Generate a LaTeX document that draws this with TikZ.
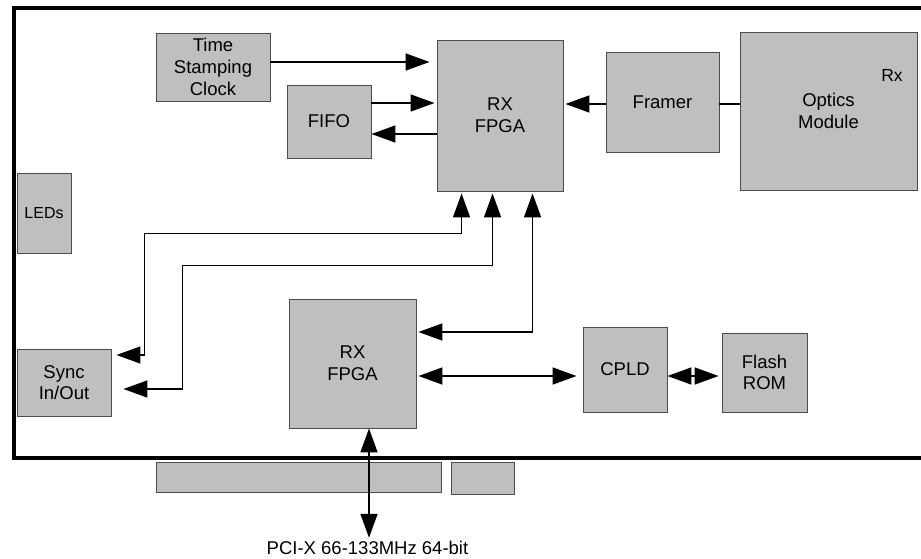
\documentclass[tikz,border=0pt]{standalone}
\usepackage{fontspec}
\setmainfont{Liberation Sans}
\usetikzlibrary{arrows.meta}

\begin{document}
\begin{tikzpicture}[x=1pt, y=-1pt, thick,
  main/.style = {draw=black!70, line width=0.9pt, fill=black!25, inner sep=0pt, align=center, font=\fontsize{18.5}{21.7}\selectfont},
  txt/.style = {inner sep=0pt, font=\fontsize{18.5}{21.7}\selectfont},
  arr/.style = {line width=1.6pt, -{Triangle[length=24pt, width=17pt]}},
  dbl/.style = {line width=1.6pt, {Triangle[length=24pt, width=17pt]}-{Triangle[length=24pt, width=17pt]}}]
\useasboundingbox (0,0) rectangle (921,558);

\draw[line width=4.5pt] (921,8) -- (14,8) -- (14,458) -- (921,458);

\node[main, minimum width=114pt, minimum height=68pt] (clk) at (213,67) {Time\\Stamping\\Clock};
\node[main, minimum width=84pt, minimum height=73pt] (fifo) at (329,121.5) {FIFO};
\node[main, minimum width=126pt, minimum height=151pt] (rx1) at (500,115.5) {RX\\FPGA};
\node[main, minimum width=113pt, minimum height=100pt] (framer) at (662.5,102) {Framer};
\node[main, minimum width=177pt, minimum height=158pt] (optics) at (828.5,111) {Optics\\Module};
\node[txt, font=\fontsize{17.5}{20}\selectfont] (rx) at (892,75) {Rx};

\node[main, minimum width=54pt, minimum height=80pt, font=\fontsize{16}{19}\selectfont] (leds) at (44,213) {LEDs};
\node[main, minimum width=94pt, minimum height=67pt] (sync) at (64,382.5) {Sync\\In/Out};

\node[main, minimum width=127pt, minimum height=129pt] (rx2) at (352.5,363.5) {RX\\FPGA};
\node[main, minimum width=84pt, minimum height=85pt] (cpld) at (625,369.5) {CPLD};
\node[main, minimum width=85pt, minimum height=79pt] (flash) at (764.5,372.5) {Flash\\ROM};

\node[main, minimum width=285pt, minimum height=30pt] (edge1) at (298.5,477) {};
\node[main, minimum width=63pt, minimum height=32pt] (edge2) at (482.5,478) {};
\node[txt] (pci) at (367.5,548) {PCI-X 66-133MHz 64-bit};

\coordinate (c1) at ([yshift=5pt]clk.east);
\draw[arr, shorten >=7pt] (c1) -- (c1 -| rx1.west);

\coordinate (f1) at ([yshift=18.5pt]fifo.east);
\coordinate (f2) at ([yshift=-12.5pt]fifo.east);
\draw[arr, shorten >=2pt] (f1) -- (f1 -| rx1.west);
\draw[arr] (f2 -| rx1.west) -- (f2);

\coordinate (fr) at ([yshift=-2pt]framer.west);
\draw[arr, shorten >=2pt] (fr) -- (fr -| rx1.east);
\draw[line width=1.6pt] (fr -| framer.east) -- (fr -| optics.west);

\draw[dbl, shorten <=2pt, shorten >=5pt] ([xshift=25pt]rx1.south west) -- ++(0,42) -| ([xshift=33pt, yshift=27.5pt]sync.east) -- ([yshift=27.5pt]sync.east);
\draw[dbl, shorten <=2pt, shorten >=12pt] ([xshift=56pt]rx1.south west) -- ++(0,74) -| ([xshift=71pt, yshift=-6.5pt]sync.east) -- ([yshift=-6.5pt]sync.east);
\draw[dbl, shorten <=2pt, shorten >=2pt] ([xshift=96pt]rx1.south west) |- ([yshift=31.5pt]rx2.east);

\coordinate (b1) at ([yshift=-12.5pt]rx2.east);
\draw[dbl, shorten <=2pt, shorten >=6pt] (b1) -- (b1 -| cpld.west);
\coordinate (b2) at ([yshift=-6.5pt]cpld.east);
\draw[dbl, shorten >=3pt] (b2) -- (b2 -| flash.west);

\coordinate (p1) at ([xshift=16.5pt]rx2.south);
\draw[dbl, shorten >=3pt] (p1) -- (p1 |- pci.north);

\end{tikzpicture}
\end{document}
